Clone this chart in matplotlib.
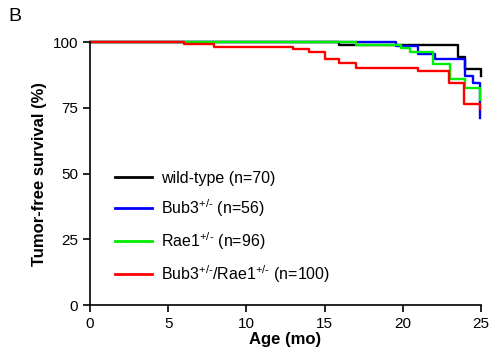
import matplotlib
matplotlib.use("Agg")
import matplotlib.pyplot as plt

plt.rcParams["font.family"] = ["Liberation Sans", "DejaVu Sans"]
plt.rcParams["mathtext.fontset"] = "custom"
plt.rcParams["mathtext.rm"] = "Liberation Sans"
plt.rcParams["mathtext.it"] = "Liberation Sans:italic"
plt.rcParams["mathtext.bf"] = "Liberation Sans:bold"

# Kaplan-Meier step data (months, % tumor-free)
wt_t = [0, 15.9, 23.55, 23.96, 24.97]
wt_s = [100, 98.9, 94.4, 89.6, 87.0]

bub3_t = [0, 19.56, 21.0, 22.05, 24.0, 24.5, 24.95]
bub3_s = [100, 98.4, 95.6, 93.4, 87.1, 84.4, 71.0]

rae1_t = [0, 17.0, 19.9, 20.45, 21.9, 23.0, 24.0, 24.95]
rae1_s = [100, 98.9, 97.7, 96.2, 91.7, 85.9, 82.4, 78.1]

dbl_t = [0, 6.0, 7.95, 12.95, 14.0, 15.0, 15.9, 17.0, 21.0, 22.95, 23.9, 24.95]
dbl_s = [100, 99.2, 98.1, 97.2, 96.1, 93.7, 91.9, 90.3, 88.8, 84.6, 76.4, 74.5]

het = r"$^{+/\text{-}}$"
labels = [
    "wild-type (n=70)",
    "Bub3" + het + " (n=56)",
    "Rae1" + het + " (n=96)",
    "Bub3" + het + "/Rae1" + het + " (n=100)",
]
colors = ["#000000", "#0000ff", "#00ee00", "#ff0000"]

fig = plt.figure(figsize=(4.93, 3.62), dpi=100)
ax = fig.add_axes([90 / 493, 1 - 305.3 / 362, 391 / 493, 263.3 / 362])

series = [(wt_t, wt_s), (bub3_t, bub3_s), (rae1_t, rae1_s), (dbl_t, dbl_s)]
for (t, s), c, lab in zip(series, colors, labels):
    ax.step(t, s, where="post", color=c, lw=1.7, label=lab, clip_on=False)

ax.set_xlim(0, 25)
ax.set_ylim(0, 100)
ax.set_xticks([0, 5, 10, 15, 20, 25])
ax.set_yticks([0, 25, 50, 75, 100])
for side in ["top", "right"]:
    ax.spines[side].set_visible(False)
for side in ["left", "bottom"]:
    ax.spines[side].set_linewidth(1.2)
ax.tick_params(direction="out", length=5, width=1.2, labelsize=11)

ax.set_xlabel("Age (mo)", fontsize=12, fontweight="bold", labelpad=1)
ax.set_ylabel("Tumor-free survival (%)", fontsize=12, fontweight="bold", labelpad=4)

leg = ax.legend(loc="upper left", bbox_to_anchor=(0.027, 0.565), frameon=False,
                fontsize=11.5, handlelength=2.3, handletextpad=0.6, labelspacing=0.7)
for h in leg.get_lines():
    h.set_linewidth(2.0)

fig.text(8 / 493, 1 - 8 / 362, "B", fontsize=14, va="top", ha="left")

fig.savefig("out.png", dpi=100)
